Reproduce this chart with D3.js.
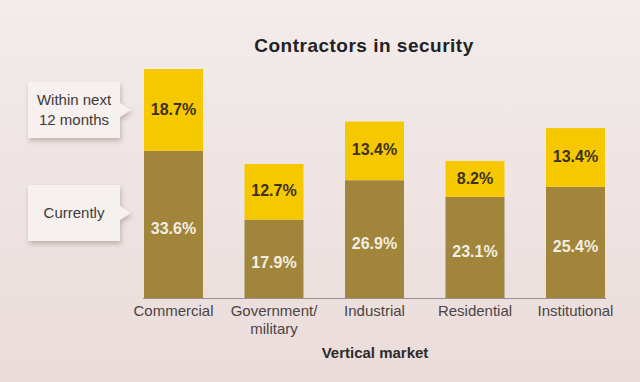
<!DOCTYPE html>
<html><head><meta charset="utf-8">
<script src="https://cdn.jsdelivr.net/npm/d3@7"></script>
<style>
html,body{margin:0;padding:0;background:#efe6e5;}
svg{display:block;}
</style></head>
<body>
<svg id="chart" width="640" height="382"></svg>
<script>
const categories = ["Commercial", "Government/\nmilitary", "Industrial", "Residential", "Institutional"];
const currently = [33.6, 17.9, 26.9, 23.1, 25.4];
const nextYear = [18.7, 12.7, 13.4, 8.2, 13.4];
const seriesNames = ["Currently", "Within next\n12 months"];
const title = "Contractors in security";
const xTitle = "Vertical market";

const W = 640, H = 382;
const FONT = "'Liberation Sans Narrow', 'Arial Narrow', 'Liberation Sans', Arial, sans-serif";
const svg = d3.select("#chart");

const defs = svg.append("defs");
const bg = defs.append("linearGradient").attr("id","bg").attr("x1",0).attr("y1",0).attr("x2",0).attr("y2",1);
bg.append("stop").attr("offset","0%").attr("stop-color","#f2ecea");
bg.append("stop").attr("offset","100%").attr("stop-color","#eadcdb");
const sh = defs.append("filter").attr("id","shadow").attr("x","-20%").attr("y","-20%").attr("width","150%").attr("height","160%");
sh.append("feDropShadow").attr("dx",1).attr("dy",3).attr("stdDeviation",2.5).attr("flood-color","#8a7470").attr("flood-opacity",0.45);

svg.append("rect").attr("width",W).attr("height",H).attr("fill","url(#bg)");

const baseY = 298;
const x = d3.scaleBand().domain(categories).range([123.25, 625.75]).paddingInner(0.413).paddingOuter(0.2065);
const y = d3.scaleLinear().domain([0, 52.3]).range([baseY, 69]);

const data = categories.map((c,i)=>({cat:c, cur:currently[i], next:nextYear[i]}));

// baseline
svg.append("line").attr("x1", x(categories[0]) - 1).attr("x2", x(categories[4]) + x.bandwidth() + 1)
  .attr("y1", baseY + 0.5).attr("y2", baseY + 0.5).attr("stroke","#9a9090").attr("stroke-width",1);

const g = svg.append("g");
g.selectAll("rect.cur").data(data).join("rect").attr("class","cur")
  .attr("x", d=>x(d.cat)).attr("width", x.bandwidth())
  .attr("y", d=>y(d.cur)).attr("height", d=>baseY - y(d.cur))
  .attr("fill","#a0853a");
g.selectAll("rect.next").data(data).join("rect").attr("class","next")
  .attr("x", d=>x(d.cat)).attr("width", x.bandwidth())
  .attr("y", d=>y(d.cur + d.next)).attr("height", d=>y(d.cur) - y(d.cur + d.next))
  .attr("fill","#f6c800");

// value labels
g.selectAll("text.curl").data(data).join("text").attr("class","curl")
  .attr("x", d=>x(d.cat) + x.bandwidth()/2)
  .attr("y", d=>(y(d.cur) + baseY)/2 + 4)
  .attr("dy","0.35em").attr("text-anchor","middle")
  .attr("font-family",FONT).attr("font-weight","bold").attr("font-size",16)
  .attr("fill","#f3eee2").text(d=>d.cur.toFixed(1)+"%");
g.selectAll("text.nextl").data(data).join("text").attr("class","nextl")
  .attr("x", d=>x(d.cat) + x.bandwidth()/2)
  .attr("y", d=>(y(d.cur) + y(d.cur+d.next))/2 - 1)
  .attr("dy","0.35em").attr("text-anchor","middle")
  .attr("font-family",FONT).attr("font-weight","bold").attr("font-size",16)
  .attr("fill","#3b3222").text(d=>d.next.toFixed(1)+"%");

// x axis labels
const xl = svg.append("g");
data.forEach(d=>{
  const lines = d.cat.split("\n");
  const t = xl.append("text").attr("x", x(d.cat) + x.bandwidth()/2).attr("y", 316)
    .attr("text-anchor","middle").attr("font-family",FONT).attr("font-size",15).attr("fill","#4a4444");
  lines.forEach((l,i)=>t.append("tspan").attr("x", x(d.cat) + x.bandwidth()/2).attr("dy", i?18:0).text(l));
});
svg.append("text").attr("x", 375).attr("y", 358).attr("text-anchor","middle")
  .attr("font-family",FONT).attr("font-weight","bold").attr("font-size",15).attr("fill","#2f2b2b").text(xTitle);

// title
svg.append("text").attr("x", 364).attr("y", 52).attr("text-anchor","middle")
  .attr("font-family","'Liberation Sans', Arial, sans-serif").attr("font-weight","bold").attr("font-size",19)
  .attr("letter-spacing",0.5).attr("fill","#222").text(title);

// legend callouts
function callout(label, cy){
  const bx = 28, bw = 92, bh = 56, by = cy - bh/2, tip = 131;
  const path = `M${bx},${by} H${bx+bw} V${cy-7} L${tip},${cy} L${bx+bw},${cy+7} V${by+bh} H${bx} Z`;
  svg.append("path").attr("d", path).attr("fill","#f6f0ef").attr("filter","url(#shadow)");
  const lines = label.split("\n");
  const t = svg.append("text").attr("x", bx + bw/2).attr("text-anchor","middle")
    .attr("font-family",FONT).attr("font-size",15).attr("fill","#3e3a3a");
  const y0 = cy - (lines.length-1)*10 + 5;
  lines.forEach((l,i)=>t.append("tspan").attr("x", bx+bw/2).attr("y", y0 + i*20).text(l));
}
callout(seriesNames[1], y((currently[0] + currently[0] + nextYear[0])/2));
callout(seriesNames[0], 213);
</script>
</body></html>
